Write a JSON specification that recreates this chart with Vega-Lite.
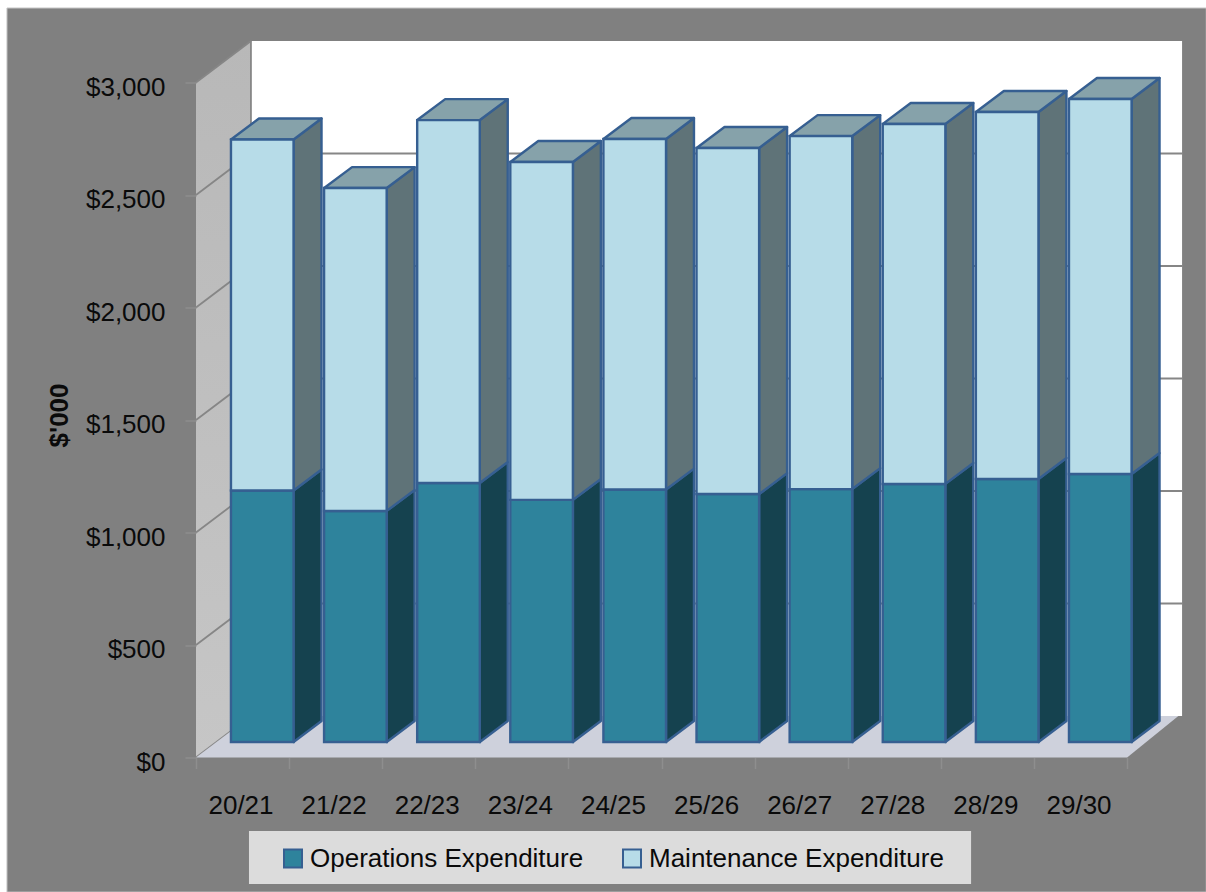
{
  "$schema": "https://vega.github.io/schema/vega-lite/v6.json",
  "width": 987,
  "height": 720,
  "autosize": "none",
  "padding": {"left": 196, "top": 37.5, "right": 23, "bottom": 134.5},
  "background": "#ffffff",
  "config": {"view": {"stroke": null}},
  "datasets": {
    "bars": [
      {"period": "20/21", "position": 0.5, "series": "Operations Expenditure", "start": 0, "end": 1118},
      {"period": "20/21", "position": 0.5, "series": "Maintenance Expenditure", "start": 1118, "end": 2678},
      {"period": "21/22", "position": 1.5, "series": "Operations Expenditure", "start": 0, "end": 1027},
      {"period": "21/22", "position": 1.5, "series": "Maintenance Expenditure", "start": 1027, "end": 2462},
      {"period": "22/23", "position": 2.5, "series": "Operations Expenditure", "start": 0, "end": 1151},
      {"period": "22/23", "position": 2.5, "series": "Maintenance Expenditure", "start": 1151, "end": 2764},
      {"period": "23/24", "position": 3.5, "series": "Operations Expenditure", "start": 0, "end": 1076},
      {"period": "23/24", "position": 3.5, "series": "Maintenance Expenditure", "start": 1076, "end": 2578},
      {"period": "24/25", "position": 4.5, "series": "Operations Expenditure", "start": 0, "end": 1122},
      {"period": "24/25", "position": 4.5, "series": "Maintenance Expenditure", "start": 1122, "end": 2680},
      {"period": "25/26", "position": 5.5, "series": "Operations Expenditure", "start": 0, "end": 1102},
      {"period": "25/26", "position": 5.5, "series": "Maintenance Expenditure", "start": 1102, "end": 2640},
      {"period": "26/27", "position": 6.5, "series": "Operations Expenditure", "start": 0, "end": 1124},
      {"period": "26/27", "position": 6.5, "series": "Maintenance Expenditure", "start": 1124, "end": 2693},
      {"period": "27/28", "position": 7.5, "series": "Operations Expenditure", "start": 0, "end": 1147},
      {"period": "27/28", "position": 7.5, "series": "Maintenance Expenditure", "start": 1147, "end": 2747},
      {"period": "28/29", "position": 8.5, "series": "Operations Expenditure", "start": 0, "end": 1169},
      {"period": "28/29", "position": 8.5, "series": "Maintenance Expenditure", "start": 1169, "end": 2800},
      {"period": "29/30", "position": 9.5, "series": "Operations Expenditure", "start": 0, "end": 1191},
      {"period": "29/30", "position": 9.5, "series": "Maintenance Expenditure", "start": 1191, "end": 2858}
    ],
    "sideFaces": [
      {"period": "20/21", "series": "ops", "x": 1.048, "low": 69, "high": 1187},
      {"period": "20/21", "series": "ops", "x": 1.348, "low": 162, "high": 1280},
      {"period": "20/21", "series": "maint", "x": 1.048, "low": 1187, "high": 2747},
      {"period": "20/21", "series": "maint", "x": 1.348, "low": 1280, "high": 2840},
      {"period": "21/22", "series": "ops", "x": 2.048, "low": 69, "high": 1096},
      {"period": "21/22", "series": "ops", "x": 2.348, "low": 162, "high": 1189},
      {"period": "21/22", "series": "maint", "x": 2.048, "low": 1096, "high": 2531},
      {"period": "21/22", "series": "maint", "x": 2.348, "low": 1189, "high": 2624},
      {"period": "22/23", "series": "ops", "x": 3.048, "low": 69, "high": 1220},
      {"period": "22/23", "series": "ops", "x": 3.348, "low": 162, "high": 1313},
      {"period": "22/23", "series": "maint", "x": 3.048, "low": 1220, "high": 2833},
      {"period": "22/23", "series": "maint", "x": 3.348, "low": 1313, "high": 2926},
      {"period": "23/24", "series": "ops", "x": 4.048, "low": 69, "high": 1145},
      {"period": "23/24", "series": "ops", "x": 4.348, "low": 162, "high": 1238},
      {"period": "23/24", "series": "maint", "x": 4.048, "low": 1145, "high": 2647},
      {"period": "23/24", "series": "maint", "x": 4.348, "low": 1238, "high": 2740},
      {"period": "24/25", "series": "ops", "x": 5.048, "low": 69, "high": 1191},
      {"period": "24/25", "series": "ops", "x": 5.348, "low": 162, "high": 1284},
      {"period": "24/25", "series": "maint", "x": 5.048, "low": 1191, "high": 2749},
      {"period": "24/25", "series": "maint", "x": 5.348, "low": 1284, "high": 2842},
      {"period": "25/26", "series": "ops", "x": 6.048, "low": 69, "high": 1171},
      {"period": "25/26", "series": "ops", "x": 6.348, "low": 162, "high": 1264},
      {"period": "25/26", "series": "maint", "x": 6.048, "low": 1171, "high": 2709},
      {"period": "25/26", "series": "maint", "x": 6.348, "low": 1264, "high": 2802},
      {"period": "26/27", "series": "ops", "x": 7.048, "low": 69, "high": 1193},
      {"period": "26/27", "series": "ops", "x": 7.348, "low": 162, "high": 1286},
      {"period": "26/27", "series": "maint", "x": 7.048, "low": 1193, "high": 2762},
      {"period": "26/27", "series": "maint", "x": 7.348, "low": 1286, "high": 2855},
      {"period": "27/28", "series": "ops", "x": 8.048, "low": 69, "high": 1216},
      {"period": "27/28", "series": "ops", "x": 8.348, "low": 162, "high": 1309},
      {"period": "27/28", "series": "maint", "x": 8.048, "low": 1216, "high": 2816},
      {"period": "27/28", "series": "maint", "x": 8.348, "low": 1309, "high": 2909},
      {"period": "28/29", "series": "ops", "x": 9.048, "low": 69, "high": 1238},
      {"period": "28/29", "series": "ops", "x": 9.348, "low": 162, "high": 1331},
      {"period": "28/29", "series": "maint", "x": 9.048, "low": 1238, "high": 2869},
      {"period": "28/29", "series": "maint", "x": 9.348, "low": 1331, "high": 2962},
      {"period": "29/30", "series": "ops", "x": 10.048, "low": 69, "high": 1260},
      {"period": "29/30", "series": "ops", "x": 10.348, "low": 162, "high": 1353},
      {"period": "29/30", "series": "maint", "x": 10.048, "low": 1260, "high": 2927},
      {"period": "29/30", "series": "maint", "x": 10.348, "low": 1353, "high": 3020}
    ],
    "topFaces": [
      {"period": "20/21", "y": 2747, "left": 0.376, "right": 1.048},
      {"period": "20/21", "y": 2840, "left": 0.676, "right": 1.348},
      {"period": "21/22", "y": 2531, "left": 1.376, "right": 2.048},
      {"period": "21/22", "y": 2624, "left": 1.676, "right": 2.348},
      {"period": "22/23", "y": 2833, "left": 2.376, "right": 3.048},
      {"period": "22/23", "y": 2926, "left": 2.676, "right": 3.348},
      {"period": "23/24", "y": 2647, "left": 3.376, "right": 4.048},
      {"period": "23/24", "y": 2740, "left": 3.676, "right": 4.348},
      {"period": "24/25", "y": 2749, "left": 4.376, "right": 5.048},
      {"period": "24/25", "y": 2842, "left": 4.676, "right": 5.348},
      {"period": "25/26", "y": 2709, "left": 5.376, "right": 6.048},
      {"period": "25/26", "y": 2802, "left": 5.676, "right": 6.348},
      {"period": "26/27", "y": 2762, "left": 6.376, "right": 7.048},
      {"period": "26/27", "y": 2855, "left": 6.676, "right": 7.348},
      {"period": "27/28", "y": 2816, "left": 7.376, "right": 8.048},
      {"period": "27/28", "y": 2909, "left": 7.676, "right": 8.348},
      {"period": "28/29", "y": 2869, "left": 8.376, "right": 9.048},
      {"period": "28/29", "y": 2962, "left": 8.676, "right": 9.348},
      {"period": "29/30", "y": 2927, "left": 9.376, "right": 10.048},
      {"period": "29/30", "y": 3020, "left": 9.676, "right": 10.348}
    ],
    "gridlines": [
      {"level": 0, "x": 0, "y": 0},
      {"level": 0, "x": 0.59, "y": 184.4},
      {"level": 500, "x": 0, "y": 500},
      {"level": 500, "x": 0.59, "y": 684.4},
      {"level": 500, "x": 10.59, "y": 684.4},
      {"level": 1000, "x": 0, "y": 1000},
      {"level": 1000, "x": 0.59, "y": 1184.4},
      {"level": 1000, "x": 10.59, "y": 1184.4},
      {"level": 1500, "x": 0, "y": 1500},
      {"level": 1500, "x": 0.59, "y": 1684.4},
      {"level": 1500, "x": 10.59, "y": 1684.4},
      {"level": 2000, "x": 0, "y": 2000},
      {"level": 2000, "x": 0.59, "y": 2184.4},
      {"level": 2000, "x": 10.59, "y": 2184.4},
      {"level": 2500, "x": 0, "y": 2500},
      {"level": 2500, "x": 0.59, "y": 2684.4},
      {"level": 2500, "x": 10.59, "y": 2684.4},
      {"level": 3000, "x": 0, "y": 3000},
      {"level": 3000, "x": 0.59, "y": 3184.4},
      {"level": "corner", "x": 0.59, "y": 184.4},
      {"level": "corner", "x": 0.59, "y": 3184.4}
    ]
  },
  "layer": [
    {
      "data": {"values": [{"x": -2.03, "x2": 10.85, "y": -598, "y2": 3331}]},
      "mark": {"type": "rect", "fill": "#808080", "stroke": "#c4c4c4", "strokeWidth": 1},
      "encoding": {
        "x": {
          "field": "x",
          "type": "quantitative",
          "scale": {"domain": [0, 10.6], "nice": false, "zero": false},
          "axis": {
            "title": null,
            "zindex": 1,
            "values": [0, 1, 2, 3, 4, 5, 6, 7, 8, 9, 10],
            "domain": false,
            "grid": false,
            "tickColor": "#8e8e8e",
            "tickWidth": 1.5,
            "tickSize": 11,
            "labelExpr": "['20/21','21/22','22/23','23/24','24/25','25/26','26/27','27/28','28/29','29/30',''][datum.value]",
            "labelFont": "Liberation Sans",
            "labelFontSize": 26,
            "labelColor": "#0a0a0a",
            "labelOffset": 44.5,
            "labelPadding": 24,
            "labelOverlap": false,
            "labelFlush": false
          }
        },
        "x2": {"field": "x2"},
        "y": {
          "field": "y",
          "type": "quantitative",
          "scale": {"domain": [0, 3200], "nice": false, "zero": false},
          "axis": {
            "title": "$'000",
            "zindex": 1,
            "values": [0, 500, 1000, 1500, 2000, 2500, 3000],
            "format": "$,d",
            "domain": false,
            "grid": false,
            "tickColor": "#8e8e8e",
            "tickWidth": 1.5,
            "tickSize": 11,
            "labelFont": "Liberation Sans",
            "labelFontSize": 26,
            "labelColor": "#0a0a0a",
            "labelOffset": 4.5,
            "labelPadding": 20,
            "labelOverlap": false,
            "titleFont": "Liberation Sans",
            "titleFontSize": 26,
            "titleFontWeight": "bold",
            "titleColor": "#0a0a0a",
            "titleAngle": 270,
            "titleX": -124,
            "titleY": 377.5
          }
        },
        "y2": {"field": "y2"}
      }
    },
    {
      "data": {"values": [{"x": 0.59, "x2": 10.59, "y": 184.4, "y2": 3184.4}]},
      "mark": {"type": "rect", "fill": "#ffffff"},
      "encoding": {
        "x": {"field": "x", "type": "quantitative"},
        "x2": {"field": "x2"},
        "y": {"field": "y", "type": "quantitative"},
        "y2": {"field": "y2"}
      }
    },
    {
      "data": {"values": [{"x": 0, "low": 0, "high": 3000}, {"x": 0.59, "low": 184.4, "high": 3184.4}]},
      "mark": {
        "type": "area",
        "orient": "vertical",
        "fill": {
          "gradient": "linear",
          "x1": 0, "y1": 0, "x2": 0, "y2": 1,
          "stops": [{"offset": 0, "color": "#b8b8b8"}, {"offset": 1, "color": "#c6c6c6"}]
        }
      },
      "encoding": {
        "x": {"field": "x", "type": "quantitative"},
        "y": {"field": "low", "type": "quantitative"},
        "y2": {"field": "high"}
      }
    },
    {
      "data": {"name": "gridlines"},
      "mark": {"type": "line", "color": "#868686", "strokeWidth": 1.8},
      "encoding": {
        "x": {"field": "x", "type": "quantitative"},
        "y": {"field": "y", "type": "quantitative"},
        "detail": {"field": "level"}
      }
    },
    {
      "data": {"values": [{"y": 0, "left": 0, "right": 10}, {"y": 184.4, "left": 0.59, "right": 10.55}]},
      "mark": {"type": "area", "orient": "horizontal", "fill": "#ced1dc"},
      "encoding": {
        "y": {"field": "y", "type": "quantitative"},
        "x": {"field": "left", "type": "quantitative"},
        "x2": {"field": "right"}
      }
    },
    {
      "data": {"values": [{"x": 0.569, "x2": 8.324, "y": -326.7, "y2": -562}]},
      "mark": {"type": "rect", "fill": "#dcdcdc"},
      "encoding": {
        "x": {"field": "x", "type": "quantitative"},
        "x2": {"field": "x2"},
        "y": {"field": "y", "type": "quantitative"},
        "y2": {"field": "y2"}
      }
    },
    {
      "data": {"name": "sideFaces"},
      "mark": {"type": "area", "orient": "vertical", "stroke": "#365f91", "strokeWidth": 2.4, "strokeJoin": "round"},
      "encoding": {
        "x": {"field": "x", "type": "quantitative"},
        "y": {"field": "low", "type": "quantitative"},
        "y2": {"field": "high"},
        "detail": [{"field": "period"}, {"field": "series"}],
        "fill": {
          "field": "series",
          "type": "nominal",
          "scale": {"domain": ["ops", "maint"], "range": ["#15424f", "#5f7378"]},
          "legend": null
        }
      }
    },
    {
      "data": {"name": "topFaces"},
      "mark": {"type": "area", "orient": "horizontal", "fill": "#86a2aa", "stroke": "#365f91", "strokeWidth": 2.4, "strokeJoin": "round"},
      "encoding": {
        "y": {"field": "y", "type": "quantitative"},
        "x": {"field": "left", "type": "quantitative"},
        "x2": {"field": "right"},
        "detail": {"field": "period"}
      }
    },
    {
      "data": {"name": "bars"},
      "mark": {
        "type": "rect",
        "width": 62.6,
        "xOffset": 19.7,
        "yOffset": -15.5,
        "y2Offset": -15.5,
        "stroke": "#365f91",
        "strokeWidth": 2.4
      },
      "encoding": {
        "x": {"field": "position", "type": "quantitative"},
        "y": {"field": "start", "type": "quantitative"},
        "y2": {"field": "end"},
        "color": {
          "field": "series",
          "type": "nominal",
          "scale": {
            "domain": ["Operations Expenditure", "Maintenance Expenditure"],
            "range": ["#2e839c", "#b7dce8"]
          },
          "legend": {
            "title": null,
            "orient": "none",
            "legendX": 84,
            "legendY": 808,
            "direction": "horizontal",
            "columns": 2,
            "columnPadding": 35,
            "padding": 0,
            "symbolType": "square",
            "symbolSize": 324,
            "symbolStrokeColor": "#365f91",
            "symbolStrokeWidth": 2,
            "labelFont": "Liberation Sans",
            "labelFontSize": 26,
            "labelColor": "#0a0a0a",
            "labelOffset": 4,
            "labelLimit": 400
          }
        }
      }
    }
  ]
}
